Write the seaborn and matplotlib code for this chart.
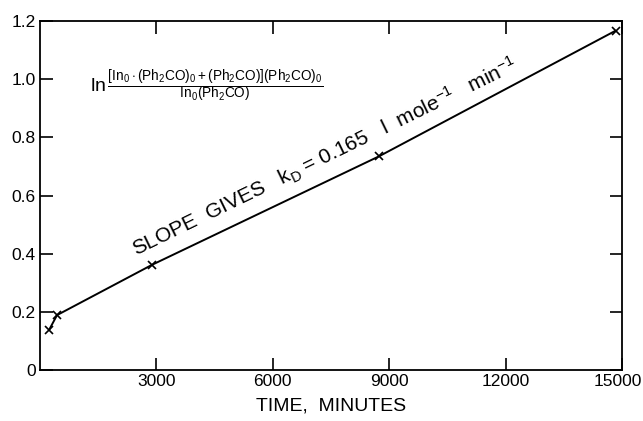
import matplotlib
matplotlib.use("Agg")
import matplotlib.pyplot as plt
import matplotlib.transforms as mtransforms
import pandas as pd
import seaborn as sns

# values
time_min = [230, 440, 2890, 8740, 14840]
ln_ratio = [0.137, 0.189, 0.362, 0.735, 1.167]
x_ticks = [3000, 6000, 9000, 12000, 15000]
y_ticks = [0, 0.2, 0.4, 0.6, 0.8, 1.0, 1.2]
y_tick_labels = ["0", "0.2", "0.4", "0.6", "0.8", "1.0", "1.2"]

df = pd.DataFrame({"time": time_min, "ln": ln_ratio})

sns.set_theme(style="ticks")
plt.rcParams["font.family"] = ["Liberation Sans", "DejaVu Sans"]
plt.rcParams["mathtext.fontset"] = "custom"
plt.rcParams["mathtext.rm"] = "Liberation Sans"
plt.rcParams["mathtext.it"] = "Liberation Sans:italic"

fig = plt.figure(figsize=(6.43, 4.21), dpi=100)
ax = fig.add_axes([0.0622, 0.121, 0.905, 0.829])

sns.lineplot(data=df, x="time", y="ln", ax=ax, color="black", linewidth=1.4,
             marker="x", markersize=6, markeredgewidth=1.2, markeredgecolor="black")

ax.set_xlim(0, 15000)
ax.set_ylim(0, 1.2)
ax.set_xticks(x_ticks)
ax.set_xticklabels([str(t) for t in x_ticks], fontsize=12.5)
ax.set_yticks(y_ticks)
ax.set_yticklabels(y_tick_labels, fontsize=12.5)
ax.tick_params(direction="in", length=9, width=1.2, top=True, right=True,
               color="black", labelcolor="black", pad=3)
for sp in ax.spines.values():
    sp.set_linewidth(1.3)
    sp.set_color("black")

# keep the last x label inside the figure edge
last = ax.get_xticklabels()[-1]
last.set_transform(last.get_transform() +
                   mtransforms.ScaledTranslation(-4 / 100, 0, fig.dpi_scale_trans))

ax.set_xlabel("TIME,  MINUTES", fontsize=14, labelpad=6, color="black")
ax.set_ylabel("")

ax.text(0.086, 0.81,
        r"$\ln\frac{\left[\mathrm{In_0\cdot(Ph_2CO)_0+(Ph_2CO)}\right]\mathrm{(Ph_2CO)_0}}"
        r"{\mathrm{In_0(Ph_2CO)}}$",
        transform=ax.transAxes, fontsize=14, color="black", va="center", ha="left")

ax.text(0.17, 0.31,
        r"SLOPE  GIVES   k$_\mathrm{D}$ = 0.165   l  mole$^{-1}$   min$^{-1}$",
        transform=ax.transAxes, fontsize=15, rotation=26, color="black",
        ha="left", va="bottom", rotation_mode="anchor")

fig.savefig("out.png", dpi=100)
